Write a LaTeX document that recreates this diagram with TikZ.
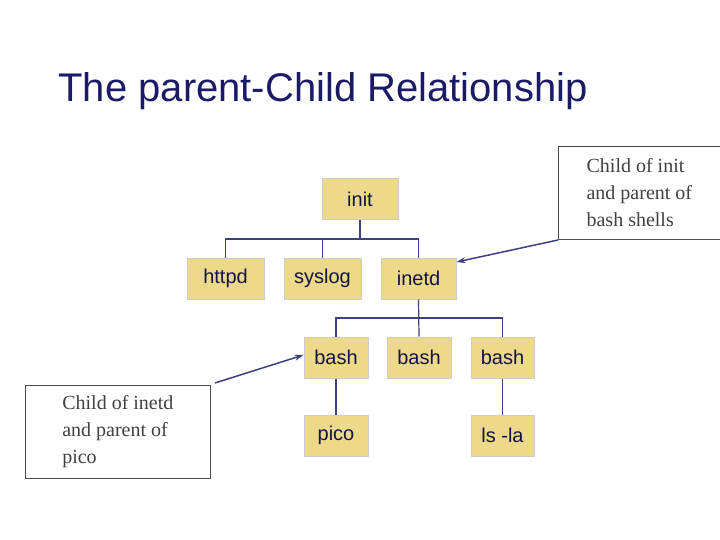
\documentclass[tikz,border=0pt]{standalone}
\usepackage{fontspec}
\usetikzlibrary{arrows.meta}
\setmainfont{Liberation Serif}
\newfontfamily\arial{Liberation Sans}
\definecolor{boxfill}{HTML}{EDD98A}
\definecolor{navy}{HTML}{1A1A66}
\definecolor{lineblue}{HTML}{3F3F7F}
\begin{document}
\begin{tikzpicture}[x=1pt,y=-1pt,
  pbox/.style={draw=black!20,line width=1pt,fill=boxfill,minimum width=#1,minimum height=41pt,inner sep=0pt,font=\arial\fontsize{20}{22}\selectfont,text=navy!70!black},
  pbox/.default=76pt,
  conn/.style={draw=lineblue,line width=1.2pt},
  note/.style={draw=black!70,line width=0.7pt,align=left,anchor=north west,inner sep=5pt,font=\fontsize{20}{27}\selectfont,text=black!75},
  arr/.style={draw=lineblue,line width=1.5pt,-{Stealth[length=9pt,width=6pt]}}]
\useasboundingbox (0,0) rectangle (720,540);
\node[anchor=base west,font=\arial\fontsize{40}{44}\selectfont,text=navy] (title) at (55,102) {The parent-Child Relationship};
\node[pbox] (init) at (360,199.5) {init};
\node[pbox=77pt] (httpd) at (225.5,278.5) {httpd};
\node[pbox=77pt] (syslog) at (322.5,278.5) {syslog};
\node[pbox=75pt] (inetd) at (418.5,278.5) {inetd};
\node[pbox=64pt] (b1) at (336,357.5) {bash};
\node[pbox=64pt] (b2) at (419,357.5) {bash};
\node[pbox=63pt] (b3) at (502.5,357.5) {bash};
\node[pbox=64pt] (pico) at (336,435.5) {pico};
\node[pbox=63pt] (ls) at (502.5,435.5) {ls -la};
\coordinate (j1) at (360,239);
\coordinate (j2) at (418.5,318);
\draw[conn] (init.south) -- (j1);
\draw[conn] (httpd.north) |- (j1) -| (inetd.north);
\draw[conn] (syslog.north) -- (syslog.north |- j1);
\draw[conn] (inetd.south) -- (b2.north);
\draw[conn] (b1.north) |- (j2) -| (b3.north);
\draw[conn] (b1.south) -- (pico.north);
\draw[conn] (b3.south) -- (ls.north);
\node[note,minimum width=162pt,minimum height=93pt] (n1) at (558,146) {Child of init\\and parent of\\bash shells};
\node[note,minimum width=185pt,minimum height=93pt] (n2) at (25,385) {Child of inetd\\and parent of\\pico};
\coordinate (a1) at (558,240);
\coordinate (a2) at (215,383);
\draw[arr] (a1) -- (inetd.east |- 0,262) ;
\draw[arr] (a2) -- (b1.west |- 0,355);
\end{tikzpicture}
\end{document}
